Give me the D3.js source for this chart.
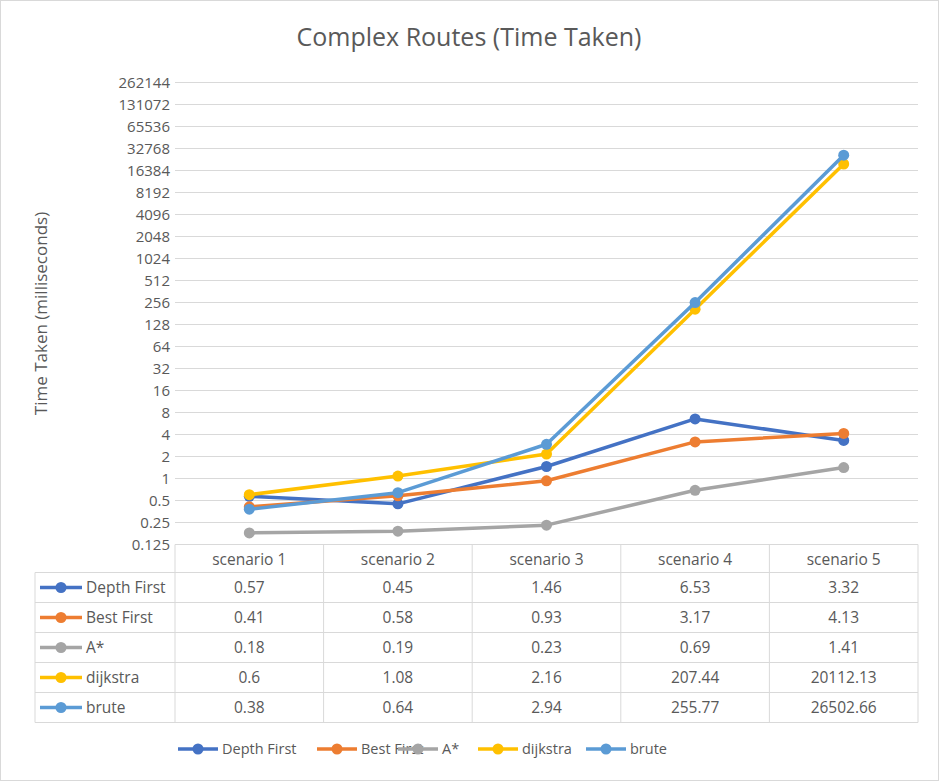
<!DOCTYPE html>
<html>
<head>
<meta charset="UTF-8">
<script src="https://cdn.jsdelivr.net/npm/d3@7"></script>
<style>body{margin:0;background:#fff}text{font-family:"Open Sans",sans-serif;fill:#595959}</style>
</head>
<body>
<svg id="chart"></svg>
<script>
var scenarios = ["scenario 1", "scenario 2", "scenario 3", "scenario 4", "scenario 5"];
var seriesNames = ["Depth First", "Best First", "A*", "dijkstra", "brute"];
var seriesColors = ["#4472C4", "#ED7D31", "#A5A5A5", "#FFC000", "#5B9BD5"];
var depthFirst = [0.57, 0.45, 1.46, 6.53, 3.32];
var bestFirst = [0.41, 0.58, 0.93, 3.17, 4.13];
var aStar = [0.18, 0.19, 0.23, 0.69, 1.41];
var dijkstra = [0.6, 1.08, 2.16, 207.44, 20112.13];
var brute = [0.38, 0.64, 2.94, 255.77, 26502.66];
var tickValues = [0.125, 0.25, 0.5, 1, 2, 4, 8, 16, 32, 64, 128, 256, 512, 1024, 2048, 4096, 8192, 16384, 32768, 65536, 131072, 262144];

var series = [depthFirst, bestFirst, aStar, dijkstra, brute];
var W = 939, H = 781;
var plotLeft = 175, plotRight = 918, plotTop = 82.5, plotBottom = 544.5, rowH = 30, headH = 28, labelLeft = 35;
var svg = d3.select("#chart").attr("width", W).attr("height", H);
svg.append("rect").attr("x", 0.5).attr("y", 0.5).attr("width", W - 1).attr("height", H - 1)
    .attr("fill", "#fff").attr("stroke", "#d9d9d9");

svg.append("text").attr("x", 469).attr("y", 46).attr("text-anchor", "middle")
    .attr("font-size", 25).text("Complex Routes (Time Taken)");

var x = d3.scaleBand().domain(scenarios).range([plotLeft, plotRight]);
var y = d3.scaleLog().base(2).domain([0.125, 262144]).range([plotBottom, plotTop]);

svg.append("g").selectAll("line").data(tickValues.slice(1)).enter().append("line")
    .attr("x1", plotLeft).attr("x2", plotRight).attr("y1", d => y(d)).attr("y2", d => y(d))
    .attr("stroke", "#d9d9d9");

svg.append("g").selectAll("text").data(tickValues).enter().append("text")
    .attr("x", 170).attr("y", d => y(d) + 5.5).attr("text-anchor", "end")
    .attr("font-size", 15).text(d => d);

svg.append("text").attr("transform", "translate(47," + ((plotTop + plotBottom) / 2) + ") rotate(-90)")
    .attr("text-anchor", "middle").attr("font-size", 17).text("Time Taken (milliseconds)");

var line = d3.line().x((d, i) => x(scenarios[i]) + x.bandwidth() / 2).y(d => y(d));
series.forEach(function (s, k) {
    var g = svg.append("g");
    g.append("path").datum(s).attr("d", line).attr("fill", "none")
        .attr("stroke", seriesColors[k]).attr("stroke-width", 3.5).attr("stroke-linejoin", "round");
    g.selectAll("circle").data(s).enter().append("circle")
        .attr("cx", (d, i) => x(scenarios[i]) + x.bandwidth() / 2).attr("cy", d => y(d))
        .attr("r", 5.5).attr("fill", seriesColors[k]);
});

// data table
var tb = svg.append("g").attr("stroke", "#d9d9d9").attr("fill", "none");
var tableBottom = plotBottom + headH + rowH * series.length;
tb.append("line").attr("x1", plotLeft).attr("x2", plotRight).attr("y1", plotBottom).attr("y2", plotBottom);
d3.range(series.length + 1).forEach(function (r) {
    var yy = plotBottom + headH + r * rowH;
    tb.append("line").attr("x1", labelLeft).attr("x2", plotRight).attr("y1", yy).attr("y2", yy);
});
tb.append("line").attr("x1", labelLeft).attr("x2", labelLeft).attr("y1", plotBottom + headH).attr("y2", tableBottom);
scenarios.forEach(function (c) {
    tb.append("line").attr("x1", x(c)).attr("x2", x(c)).attr("y1", plotBottom).attr("y2", tableBottom);
});
tb.append("line").attr("x1", plotRight).attr("x2", plotRight).attr("y1", plotBottom).attr("y2", tableBottom);

scenarios.forEach(function (c) {
    svg.append("text").attr("x", x(c) + x.bandwidth() / 2).attr("y", plotBottom + 20)
        .attr("text-anchor", "middle").attr("font-size", 15.5).text(c);
});
series.forEach(function (s, k) {
    var yy = plotBottom + headH + k * rowH + rowH / 2;
    svg.append("line").attr("x1", 40).attr("x2", 82).attr("y1", yy).attr("y2", yy)
        .attr("stroke", seriesColors[k]).attr("stroke-width", 3.5);
    svg.append("circle").attr("cx", 61).attr("cy", yy).attr("r", 5.5).attr("fill", seriesColors[k]);
    svg.append("text").attr("x", 86).attr("y", yy + 5.5).attr("font-size", 15.5).text(seriesNames[k]);
    s.forEach(function (v, i) {
        svg.append("text").attr("x", x(scenarios[i]) + x.bandwidth() / 2).attr("y", yy + 5.5)
            .attr("text-anchor", "middle").attr("font-size", 15.5).text(v);
    });
});

// legend
var legendX = [178, 317, 398, 478, 586];
series.forEach(function (s, k) {
    var g = svg.append("g").attr("transform", "translate(" + legendX[k] + ",749)");
    g.append("line").attr("x1", 0).attr("x2", 40).attr("stroke", seriesColors[k]).attr("stroke-width", 3.5);
    g.append("circle").attr("cx", 20).attr("r", 5.5).attr("fill", seriesColors[k]);
    g.append("text").attr("x", 44).attr("y", 5).attr("font-size", 14.5).text(seriesNames[k]);
});
</script>
</body>
</html>
